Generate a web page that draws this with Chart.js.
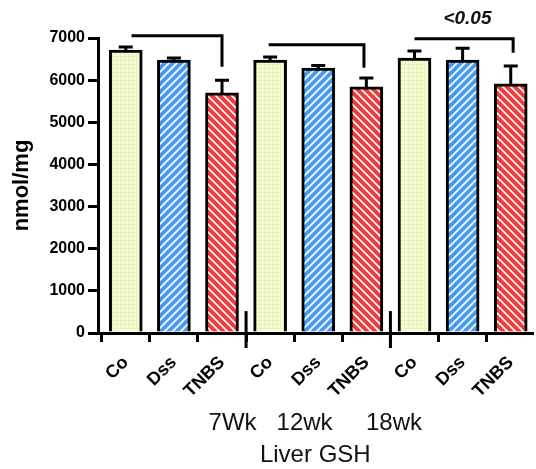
<!DOCTYPE html>
<html>
<head>
<meta charset="utf-8">
<script src="https://cdn.jsdelivr.net/npm/chart.js@4/dist/chart.umd.min.js"></script>
<style>
  html, body { margin: 0; padding: 0; background: #fff; }
</style>
</head>
<body>
<canvas id="myChart" width="536" height="469"></canvas>
<script>
// values (nmol/mg), one entry per time point
var weeks = ['7Wk', '12wk', '18wk'];
var groups = ['Co', 'Dss', 'TNBS'];
var coValues = [6714, 6478, 6525];
var coErrors = [70, 70, 165];
var dssValues = [6478, 6288, 6478];
var dssErrors = [50, 60, 280];
var tnbsValues = [5697, 5839, 5910];
var tnbsErrors = [300, 210, 425];
var yMax = 7000;
var yStep = 1000;

// significance brackets, in data units (x = bar index, y = nmol/mg)
var brackets = [
    { from: 0.12, to: 2.0, level: 7054, drop: 6318 },
    { from: 2.97, to: 4.95, level: 6841, drop: 6295 },
    { from: 6.0, to: 8.05, level: 6983, drop: 6651 }
];
var pText = { text: '<0.05', x: 7.1, y: 7458 };
var groupBreaks = [2.5, 5.5];

var labels = [];
weeks.forEach(function () { groups.forEach(function (g) { labels.push(g); }); });
var weekLine = weeks[0] + '   ' + weeks[1] + '     ' + weeks[2];

function hatch(bg, dir) {
    var c = document.createElement('canvas');
    c.width = 8; c.height = 8;
    var g = c.getContext('2d');
    g.fillStyle = bg;
    g.fillRect(0, 0, 8, 8);
    g.strokeStyle = '#ffffff';
    g.lineWidth = 1.6;
    g.beginPath();
    if (dir > 0) {
        g.moveTo(0, 8); g.lineTo(8, 0);
        g.moveTo(-2, 2); g.lineTo(2, -2);
        g.moveTo(6, 10); g.lineTo(10, 6);
    } else {
        g.moveTo(0, 0); g.lineTo(8, 8);
        g.moveTo(-2, 6); g.lineTo(2, 10);
        g.moveTo(6, -2); g.lineTo(10, 2);
    }
    g.stroke();
    return g.createPattern(c, 'repeat');
}

function grid(bg, line) {
    var c = document.createElement('canvas');
    c.width = 4; c.height = 4;
    var g = c.getContext('2d');
    g.fillStyle = bg;
    g.fillRect(0, 0, 4, 4);
    g.fillStyle = line;
    g.fillRect(0, 0, 4, 1);
    g.fillRect(0, 0, 1, 4);
    return g.createPattern(c, 'repeat');
}

function points(vals, k) {
    return vals.map(function (v, i) { return { x: i * 3 + k, y: v }; });
}

var extras = {
    id: 'extras',
    afterDatasetsDraw: function (chart) {
        var ctx = chart.ctx;
        var xs = chart.scales.x, ys = chart.scales.y;
        ctx.save();
        ctx.strokeStyle = '#000';
        ctx.lineWidth = 3;
        ctx.lineCap = 'butt';
        // error bars (upper half only)
        chart.data.datasets.forEach(function (ds, di) {
            chart.getDatasetMeta(di).data.forEach(function (el, i) {
                var top = ys.getPixelForValue(ds.data[i].y + ds.errors[i]);
                ctx.beginPath();
                ctx.moveTo(el.x, el.y);
                ctx.lineTo(el.x, top);
                ctx.moveTo(el.x - 7, top);
                ctx.lineTo(el.x + 7, top);
                ctx.stroke();
            });
        });
        // brackets
        brackets.forEach(function (b) {
            var x1 = xs.getPixelForValue(b.from), x2 = xs.getPixelForValue(b.to);
            var yl = ys.getPixelForValue(b.level), yd = ys.getPixelForValue(b.drop);
            ctx.beginPath();
            ctx.moveTo(x1, yl);
            ctx.lineTo(x2, yl);
            ctx.lineTo(x2, yd);
            ctx.stroke();
        });
        // group separators on the x axis
        groupBreaks.forEach(function (v) {
            var x = xs.getPixelForValue(v);
            ctx.beginPath();
            ctx.moveTo(x, ys.getPixelForValue(520));
            ctx.lineTo(x, chart.chartArea.bottom + 15);
            ctx.stroke();
        });
        ctx.fillStyle = '#111';
        ctx.font = 'italic bold 19px "Liberation Sans", Arial, sans-serif';
        ctx.textAlign = 'center';
        ctx.textBaseline = 'middle';
        ctx.fillText(pText.text, xs.getPixelForValue(pText.x), ys.getPixelForValue(pText.y));
        ctx.restore();
    }
};

var ctx = document.getElementById('myChart');
var myChart = new Chart(ctx, {
    type: 'bar',
    data: {
        datasets: [{
            label: 'Co',
            data: points(coValues, 0),
            errors: coErrors,
            backgroundColor: grid('#f6fad2', '#edf3bd')
        }, {
            label: 'Dss',
            data: points(dssValues, 1),
            errors: dssErrors,
            backgroundColor: hatch('#4a9bf0', 1)
        }, {
            label: 'TNBS',
            data: points(tnbsValues, 2),
            errors: tnbsErrors,
            backgroundColor: hatch('#f03c3c', -1)
        }]
    },
    plugins: [extras],
    options: {
        responsive: false,
        animation: false,
        devicePixelRatio: 1,
        datasets: {
            bar: {
                grouped: false,
                barThickness: 33,
                borderColor: '#000',
                borderWidth: 3
            }
        },
        layout: { padding: { top: 38, right: 0, bottom: 0, left: 0 } },
        plugins: {
            legend: { display: false },
            tooltip: { enabled: false }
        },
        scales: {
            x: {
                type: 'linear',
                offset: false,
                min: -0.577,
                max: 8.454,
                afterBuildTicks: function (s) {
                    s.ticks = labels.map(function (l, i) { return { value: i }; });
                },
                afterFit: function (s) { s.height = 136; },
                ticks: {
                    autoSkip: false,
                    minRotation: 45,
                    maxRotation: 45,
                    padding: 10,
                    color: '#000',
                    font: { family: '"Liberation Sans", Arial, sans-serif', size: 18, weight: 'bold' },
                    callback: function (v) { return labels[v]; }
                },
                grid: { drawOnChartArea: false, tickLength: 9, lineWidth: 3, color: '#000' },
                border: { display: true, color: '#000', width: 3 },
                title: {
                    display: true,
                    text: [weekLine, 'Liver GSH'],
                    color: '#111',
                    font: { family: '"Liberation Sans", Arial, sans-serif', size: 24, lineHeight: 1.35 },
                    padding: { top: 0, bottom: -3 }
                }
            },
            y: {
                min: 0,
                max: yMax,
                afterFit: function (s) { s.width = 98; },
                ticks: {
                    stepSize: yStep,
                    padding: 3,
                    color: '#000',
                    font: { family: '"Liberation Sans", Arial, sans-serif', size: 16, weight: 'bold' },
                    callback: function (v) { return String(v); }
                },
                grid: { drawOnChartArea: false, tickLength: 10, lineWidth: 3, color: '#000' },
                border: { display: true, color: '#000', width: 3 },
                title: {
                    display: true,
                    text: 'nmol/mg',
                    color: '#000',
                    font: { family: '"Liberation Sans", Arial, sans-serif', size: 22, weight: 'bold' },
                    padding: { top: 9, bottom: 0 }
                }
            }
        }
    }
});
</script>
</body>
</html>
